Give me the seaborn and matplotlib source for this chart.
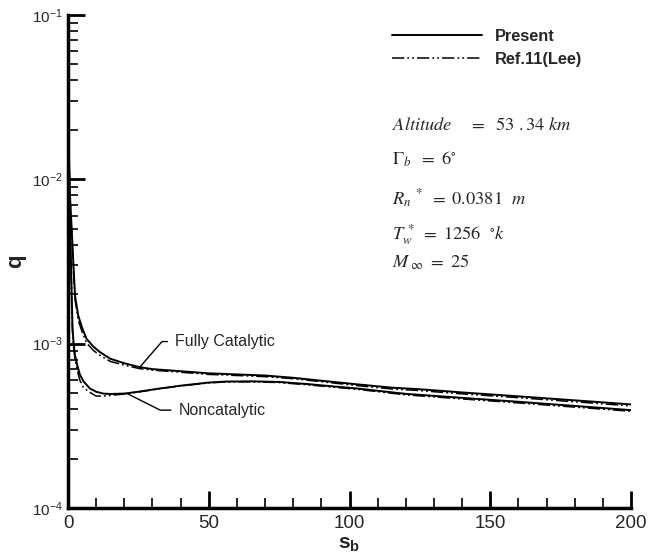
import matplotlib
matplotlib.use('Agg')
import matplotlib.pyplot as plt
import seaborn as sns
import numpy as np
import pandas as pd
from matplotlib.lines import Line2D
from matplotlib.ticker import MultipleLocator, LogLocator, NullFormatter

# ---------------- data ----------------
s_fc = [0, 0.3, 0.7, 1.3, 1.9, 2.5, 3.6, 5, 6.6, 9, 11.3, 15, 20, 25.4, 30, 40,
        50, 60, 70, 80, 90, 103, 115, 125, 140, 160, 180, 200]
q_fc_present = [0.032, 0.015, 0.008, 0.005, 0.0031, 0.00196, 0.00149, 0.00125,
                0.00107, 0.00096, 0.00089, 0.00081, 0.00076, 0.00072, 0.00070,
                0.00068, 0.00066, 0.00065, 0.00064, 0.00062, 0.000595, 0.000565,
                0.00054, 0.000528, 0.000505, 0.000478, 0.000452, 0.000427]
q_fc_ref = [0.032, 0.015, 0.0078, 0.0048, 0.0029, 0.00185, 0.0014, 0.00118,
            0.00101, 0.00091, 0.00085, 0.00078, 0.00074, 0.000705, 0.00069,
            0.00067, 0.00065, 0.00064, 0.00063, 0.000612, 0.000587, 0.000555,
            0.00053, 0.000518, 0.000495, 0.000469, 0.000443, 0.000418]

s_nc = [0, 0.2, 0.45, 0.7, 1.07, 1.3, 1.6, 2.0, 2.5, 3.3, 4.2, 5.5, 7.8, 10, 12.5,
        15, 20, 25, 33, 40, 50, 56, 65, 75, 85, 95, 103, 120, 140, 160, 180, 200]
q_nc_present = [0.032, 0.015, 0.008, 0.005, 0.0031, 0.002, 0.00125, 0.001,
                0.00085, 0.00074, 0.00065, 0.00059, 0.000533, 0.00051, 0.000497,
                0.000494, 0.000497, 0.00051, 0.000535, 0.000555, 0.00058, 0.000588,
                0.00059, 0.000585, 0.000568, 0.000548, 0.000533, 0.000495, 0.000468,
                0.000443, 0.000418, 0.000394]
q_nc_ref = [0.032, 0.015, 0.0078, 0.0048, 0.0029, 0.0019, 0.00118, 0.00094,
            0.0008, 0.00069, 0.0006, 0.00054, 0.000505, 0.00048, 0.00048,
            0.000484, 0.000494, 0.000508, 0.000533, 0.000553, 0.000577, 0.000585,
            0.000586, 0.00058, 0.000562, 0.000542, 0.000527, 0.000488, 0.000461,
            0.000436, 0.000411, 0.000388]

x_ticks = [0, 50, 100, 150, 200]
legend_labels = ["Present", "Ref.11(Lee)"]
annot_labels = ["Fully Catalytic", "Noncatalytic"]
info_lines = [r"$Altitude\quad\ =\ \ 53\ .34\ km$",
              r"$\Gamma_b\ \ =\ 6^{\circ}$",
              r"$R_n{}^{\ *}\ =\ 0.0381\ \ m$",
              r"$T_w^{\,*}\ =\ 1256\ \ ^{\circ}k$",
              r"$M_{\ \infty}\ =\ 25$"]

# ---------------- style ----------------
sns.set_theme(style='ticks')
plt.rcParams['font.family'] = ['Liberation Sans', 'DejaVu Sans']
plt.rcParams['mathtext.fontset'] = 'custom'
plt.rcParams['mathtext.rm'] = 'Liberation Sans'
plt.rcParams['mathtext.it'] = 'Liberation Sans:italic'
plt.rcParams['mathtext.bf'] = 'Liberation Sans:bold'

fig = plt.figure(figsize=(6.48, 5.6), dpi=100)
ax = fig.add_axes([68 / 648, 1 - 508 / 560, 563 / 648, 493 / 560])

dashdot = (0, (8, 2, 1.2, 2, 1.2, 2))
solid_kw = dict(color='black', lw=1.4, estimator=None, sort=False, legend=False, ax=ax)
ref_kw = dict(color='black', lw=1.1, estimator=None, sort=False, legend=False, ax=ax,
              linestyle=dashdot)

sns.lineplot(x=s_fc, y=q_fc_present, **solid_kw)
sns.lineplot(x=s_fc, y=q_fc_ref, **ref_kw)
sns.lineplot(x=s_nc, y=q_nc_present, **solid_kw)
sns.lineplot(x=s_nc, y=q_nc_ref, **ref_kw)

ax.set_yscale('log')
ax.set_ylim(1e-4, 1e-1)
ax.set_xlim(0, 200)
ax.set_xticks(x_ticks)
ax.xaxis.set_minor_locator(MultipleLocator(10))
ax.yaxis.set_minor_locator(LogLocator(base=10, subs=np.arange(2, 10)))
ax.yaxis.set_minor_formatter(NullFormatter())

ax.tick_params(which='major', direction='in', length=12, width=2, color='black')
ax.tick_params(which='minor', direction='in', length=7, width=1.2, color='black')
ax.tick_params(axis='x', which='major', labelsize=13.5, pad=5)
ax.tick_params(axis='y', which='major', labelsize=11, pad=4)

sns.despine(ax=ax)
for sp in ['left', 'bottom']:
    ax.spines[sp].set_linewidth(2.5)
    ax.spines[sp].set_color('black')

ax.set_xlabel(r"$\mathbf{s_b}$", fontsize=15, labelpad=2)
ax.set_ylabel("q", fontsize=16, fontweight='bold', labelpad=4)

# legend
handles = [Line2D([], [], color='black', lw=1.4),
           Line2D([], [], color='black', lw=1.1, linestyle=dashdot)]
leg = ax.legend(handles, legend_labels, loc='upper left',
                bbox_to_anchor=(0.5755, 0.972), frameon=False,
                prop={'weight': 'bold', 'size': 11.8}, handlelength=5.5,
                handletextpad=0.75, labelspacing=0.5, borderpad=0, borderaxespad=0)

# annotations
ax.annotate(annot_labels[0], xy=(25.6, 0.000723), xytext=(38.0, 0.00103),
            fontsize=11.5, ha='left', va='center',
            arrowprops=dict(arrowstyle='-', color='black', lw=1.0,
                            connectionstyle='angle,angleA=0,angleB=49,rad=0',
                            relpos=(0, 0.5), shrinkA=3, shrinkB=0))
ax.annotate(annot_labels[1], xy=(20.9, 0.000498), xytext=(39.2, 0.000394),
            fontsize=11.5, ha='left', va='center',
            arrowprops=dict(arrowstyle='-', color='black', lw=1.0,
                            connectionstyle='angle,angleA=0,angleB=-26.6,rad=0',
                            relpos=(0, 0.5), shrinkA=3, shrinkB=0))

# info block
info_y = [0.7667, 0.6957, 0.6146, 0.5436, 0.4868]
for txt, yy in zip(info_lines, info_y):
    ax.text(0.5755, yy, txt, transform=ax.transAxes, fontsize=13.2,
            math_fontfamily='stix', ha='left', va='baseline')

fig.savefig('out.png', dpi=100)
